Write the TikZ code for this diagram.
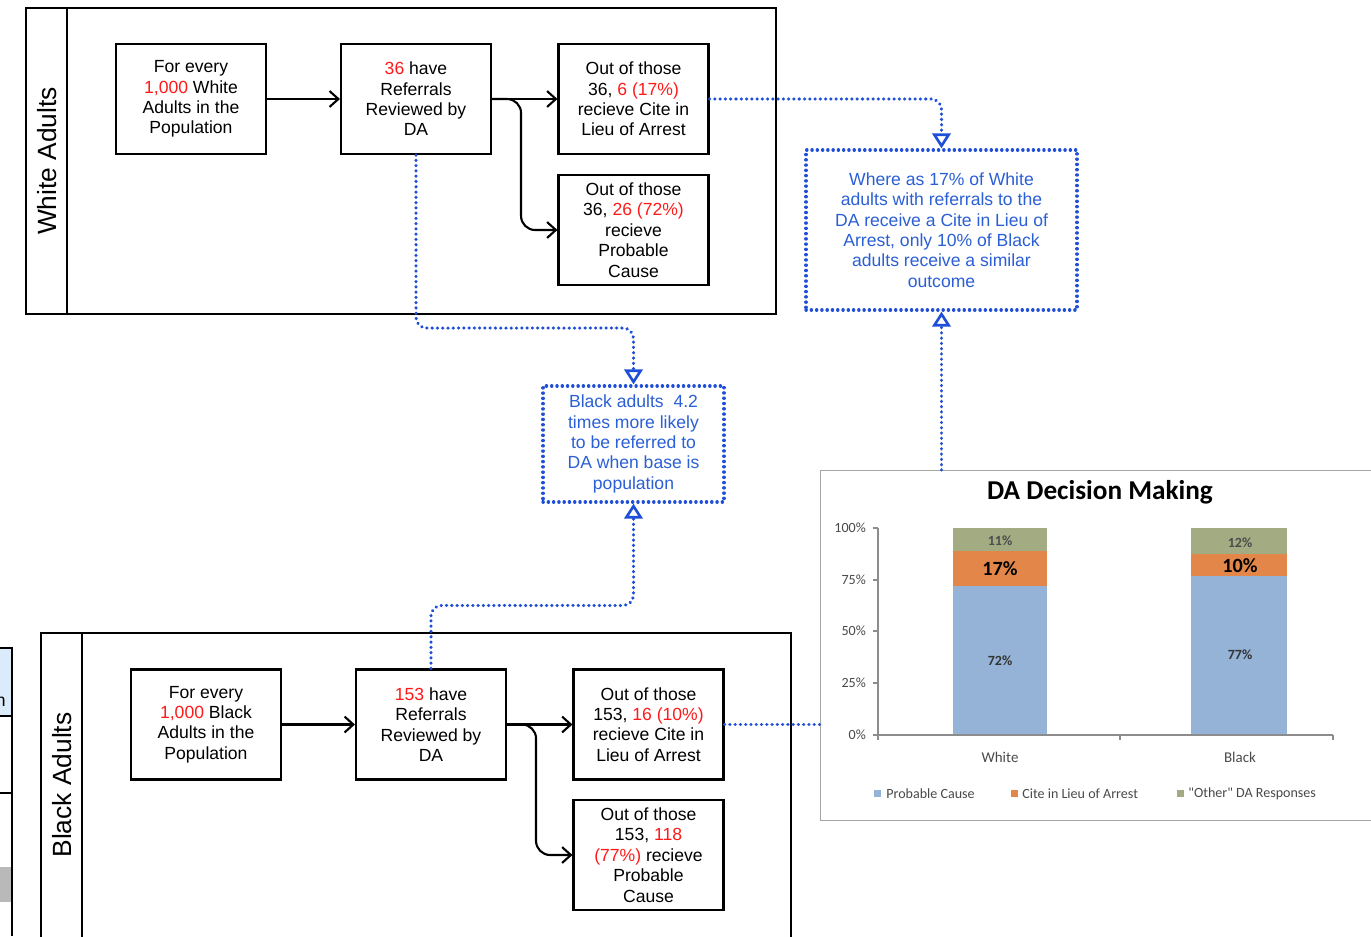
\documentclass[tikz,border=0pt]{standalone}
\usepackage{fontspec}
\setmainfont{Liberation Sans}
\newfontfamily\calib{Carlito}
\usetikzlibrary{arrows.meta,calc}
\definecolor{myred}{HTML}{FF1A1A}
\definecolor{noteblue}{HTML}{2A5FD6}
\definecolor{dotblue}{HTML}{1F4FD8}
\definecolor{barblue}{HTML}{95B3D7}
\definecolor{barorange}{HTML}{E3864A}
\definecolor{bargreen}{HTML}{A3AB82}
\definecolor{axisgray}{HTML}{8C8C8C}
\definecolor{labgray}{HTML}{4A4A4A}
\definecolor{edgeblue}{HTML}{DCEBFB}
\newcommand{\rd}[1]{\textcolor{myred}{#1}}
\tikzset{
  flowbox/.style={draw, line width=1.2pt, minimum width=3cm, minimum height=2.2cm, align=center, inner sep=0pt,
    font=\fontsize{10}{11.6}\selectfont},
  notebox/.style={draw=dotblue, line width=1.9pt, dash pattern=on 0.1pt off 2.9pt, line cap=round,
    align=center, inner sep=0pt, text=noteblue, font=\fontsize{10}{11.6}\selectfont},
  lane/.style={line width=1.4pt},
  flowarr/.style={line width=1.2pt, -{Straight Barb[length=5pt,width=9pt]}},
  dotline/.style={draw=dotblue, line width=1.9pt, dash pattern=on 0.1pt off 2.9pt, line cap=round, rounded corners=6pt},
  dotarr/.style={dotline, -{Triangle[open,length=8.5pt,width=10.5pt,line width=1.5pt]}},
  ticklab/.style={font=\calib\fontsize{8}{9}\selectfont, text=labgray, anchor=east, inner sep=1pt},
  barlab/.style={font=\calib\bfseries\fontsize{8}{9}\selectfont, text=black!80, inner sep=0pt},
  bigbarlab/.style={font=\calib\bfseries\fontsize{11.5}{12}\selectfont, text=black, inner sep=0pt},
  leglab/.style={font=\calib\fontsize{8}{9}\selectfont, text=labgray, anchor=west, inner sep=0pt},
}
\begin{document}
\begin{tikzpicture}[x=0.02cm,y=-0.02cm]
\useasboundingbox (0,0) rectangle (1371,936);
\fill[white] (0,0) rectangle (1371,936);

% left edge fragment
\fill[edgeblue] (0,648) rectangle (12,716);
\fill[gray!55] (0,867) rectangle (12,902);
\draw[line width=0.8pt] (0,648) -- (12,648) -- (12,936);
\draw[line width=0.8pt] (0,716) -- (12,716);
\draw[line width=0.8pt] (0,793) -- (12,793);
\begin{scope}
\clip (0,640) rectangle (11,715);
\node[anchor=east, inner sep=0pt, font=\fontsize{10}{11.6}\selectfont] (edgetxt) at (6,702) {n};
\end{scope}

% White lane
\draw[lane] (26,8) rectangle (776,314);
\draw[lane] (67,8) -- (67,314);
\node[rotate=90, font=\fontsize{15}{17}\selectfont] (wtitle) at (47,161) {White Adults};

\node[flowbox] (A1) at (191,99) {For every\\ \rd{1,000} White\\ Adults in the\\ Population};
\node[flowbox] (A2) at (416,99) {\rd{36} have\\ Referrals\\ Reviewed by\\ DA};
\node[flowbox] (A3) at (633.5,99) {Out of those\\ 36, \rd{6 (17\%)}\\ recieve Cite in\\ Lieu of Arrest};
\node[flowbox] (A4) at (633.5,230) {Out of those\\ 36, \rd{26 (72\%)}\\ recieve\\ Probable\\ Cause};

\draw[flowarr] (A1) -- (A2);
\draw[flowarr] (A2) -- (A3);
\draw[flowarr, rounded corners=8pt] (A2.east) -- ++(29,0) |- (A4.west);

% Black lane
\draw[lane] (41,940) -- (41,633) -- (791,633) -- (791,940);
\draw[lane] (82,633) -- (82,940);
\node[rotate=90, font=\fontsize{15}{17}\selectfont] (btitle) at (62,785) {Black Adults};

\node[flowbox] (B1) at (206,724.5) {For every\\ \rd{1,000} Black\\ Adults in the\\ Population};
\node[flowbox] (B2) at (431,724.5) {\rd{153} have\\ Referrals\\ Reviewed by\\ DA};
\node[flowbox] (B3) at (648.5,724.5) {Out of those\\ 153, \rd{16 (10\%)}\\ recieve Cite in\\ Lieu of Arrest};
\node[flowbox] (B4) at (648.5,855) {Out of those\\ 153, \rd{118}\\ \rd{(77\%)} recieve\\ Probable\\ Cause};

\draw[flowarr] (B1) -- (B2);
\draw[flowarr] (B2) -- (B3);
\draw[flowarr, rounded corners=8pt] (B2.east) -- ++(29,0) |- (B4.west);

% notes
\node[notebox, minimum width=3.62cm, minimum height=2.32cm] (C1) at (633.5,444)
  {Black adults~~4.2\\ times more likely\\ to be referred to\\ DA when base is\\ population};
\node[notebox, minimum width=5.42cm, minimum height=3.2cm] (C2) at (941.5,230)
  {Where as 17\% of White\\ adults with referrals to the\\ DA receive a Cite in Lieu of\\ Arrest, only 10\% of Black\\ adults receive a similar\\ outcome};

% chart frame
\node[draw=gray!70, line width=0.8pt, minimum width=11.1cm, minimum height=7cm, inner sep=0pt, anchor=north west] (chart) at (820,470) {};

% dotted connectors
\draw[dotarr] (A2.south) -- ++(0,173) -| (C1.north);
\draw[dotarr] (B2.north) -- ++(0,-63) -| (C1.south);
\draw[dotarr] (A3.east) -| (C2.north);
\draw[dotarr] (C2.south |- chart.north) -- (C2.south);
\draw[dotline] (B3.east) -- (B3.east -| chart.west);

% chart content
\node[font=\calib\bfseries\fontsize{15.5}{17}\selectfont, inner sep=0pt] (ctitle) at (1100,492) {DA Decision Making};

\fill[barblue] (953,735) rectangle (1047,586);
\fill[barorange] (953,586) rectangle (1047,551);
\fill[bargreen] (953,551) rectangle (1047,528);
\fill[barblue] (1191,735) rectangle (1287,576);
\fill[barorange] (1191,576) rectangle (1287,554);
\fill[bargreen] (1191,554) rectangle (1287,528);

\draw[axisgray, line width=0.6pt] (878,528) -- (878,735) -- (1333,735);
\foreach \yy in {528,580,631,683,735} \draw[axisgray, line width=0.6pt] (873,\yy) -- (878,\yy);
\foreach \xx in {878,1120,1333} \draw[axisgray, line width=0.6pt] (\xx,735) -- (\xx,740);

\node[ticklab] (t100) at (868,528) {100\%};
\node[ticklab] (t75) at (868,580) {75\%};
\node[ticklab] (t50) at (868,631) {50\%};
\node[ticklab] (t25) at (868,683) {25\%};
\node[ticklab] (t0) at (868,735) {0\%};

\node[barlab, text=black!70] (w11) at (1000,541) {11\%};
\node[bigbarlab] (w17) at (1000,569) {17\%};
\node[barlab] (w72) at (1000,661) {72\%};
\node[barlab, text=black!70] (b12) at (1240,543) {12\%};
\node[bigbarlab] (b10) at (1240,566) {10\%};
\node[barlab] (b77) at (1240,655) {77\%};

\node[font=\calib\fontsize{8.5}{9}\selectfont, text=labgray] (cw) at (1000,757) {White};
\node[font=\calib\fontsize{8.5}{9}\selectfont, text=labgray] (cb) at (1240,757) {Black};

\fill[barblue] (874,790) rectangle (881,797);
\node[leglab] (l1) at (886,794) {Probable Cause};
\fill[barorange] (1011,790) rectangle (1018,797);
\node[leglab] (l2) at (1022,794) {Cite in Lieu of Arrest};
\fill[bargreen] (1177,790) rectangle (1184,797);
\node[leglab] (l3) at (1188,794) {"Other" DA Responses};
\end{tikzpicture}
\end{document}
